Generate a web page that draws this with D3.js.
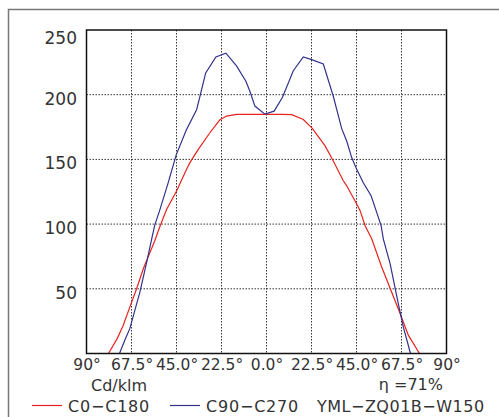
<!DOCTYPE html>
<html>
<head>
<meta charset="utf-8">
<script src="https://cdn.jsdelivr.net/npm/d3@7"></script>
<style>
	body { margin: 0; background: #fff; }
	svg { display: block; }
	text { font-family: "DejaVu Sans", sans-serif; fill: #333; }
</style>
</head>
<body>
<div id="chart"></div>
<script>
// Light distribution curve (Cd/klm) for two C-planes, drawn as a cartesian plot.

var width = 499,
	height = 417;

// Plot area inside the page
var plot = { left: 86.5, top: 30, right: 446.5, bottom: 353.5 };

// C0-C180 plane (red): gamma angle (deg, left side negative) and intensity
var redAngles = [-79, -74.6, -71.6, -68.3, -64.9, -61.6, -55.8, -53.3, -49.9, -44.9,
	-39.9, -38.3, -34.1, -28.3, -23.3, -19.9, -14.9, -7.5, 0, 7.5, 12.6,
	18.4, 22.8, 29.3, 33.4, 38.4, 40.1, 45.1, 46.8, 49.3, 52.6, 57.6, 66.8, 70.9, 76.5];
var redValues = [0, 11.7, 21.9, 36, 50.2, 65.5, 87.3, 98.1, 111.5, 125.8,
	142.5, 147.5, 157.8, 170.6, 180.6, 183.5, 184.8, 184.8, 184.8, 184.8, 184.6,
	180.8, 174.2, 160.4, 148.8, 133.5, 129.6, 115.5, 110.4, 98.8, 88.6, 66.8, 30.9, 14.2, 0];

// C90-C270 plane (blue)
var blueAngles = [-73.5, -70.8, -68.3, -65.8, -63.3, -59.9, -57.4, -55.8, -53.6, -49.1,
	-45.1, -40.1, -34.9, -30.4, -25.3, -20.3, -15, -10.3, -8.3, -5.8, -0.8,
	3.8, 8, 13.4, 18.4, 22.6, 28.4, 33.4, 37.6, 40.1, 42.6, 45.1, 48.4, 52.3,
	54.8, 57.3, 58.4, 61.8, 65.9, 68.4, 72];
var blueValues = [0, 10.4, 19.4, 33.5, 47.5, 70.6, 88.6, 99.6, 109.6, 132.2,
	153.7, 172.7, 188.6, 216.8, 229.2, 232.1, 222.3, 210.4, 202.7, 191.2, 185,
	187.3, 198, 218.5, 229.2, 227.1, 223.7, 198.8, 173.8, 164.2, 151.4, 142.3, 131.9, 121.9,
	110.4, 98.8, 88.6, 69.4, 38.6, 20.6, 0];

var xTicks = [-90, -67.5, -45, -22.5, 0, 22.5, 45, 67.5, 90];
var yTicks = [50, 100, 150, 200, 250];

var series = [
	{ name: 'C0\u2212C180', color: '#e8231e', angles: redAngles, values: redValues },
	{ name: 'C90\u2212C270', color: '#32328c', angles: blueAngles, values: blueValues }
];

var svg = d3.select('#chart').append('svg')
	.attr('width', width)
	.attr('height', height);

// outer frame (only the top and left edges are visible in the window)
svg.append('rect')
	.attr('x', 8.5).attr('y', 9.5)
	.attr('width', 700).attr('height', 700)
	.style('fill', 'none')
	.style('stroke', '#777')
	.style('stroke-width', 1.5);

var x = d3.scaleLinear().domain([-90, 90]).range([plot.left, plot.right]);
var y = d3.scaleLinear().domain([0, 250]).range([plot.bottom, plot.top]);

// dotted grid
svg.append('g').selectAll('line.vgrid')
	.data(xTicks.slice(1, -1))
	.enter().append('line')
		.attr('class', 'vgrid')
		.attr('x1', function(d) { return x(d); })
		.attr('x2', function(d) { return x(d); })
		.attr('y1', plot.top).attr('y2', plot.bottom)
		.style('stroke', '#333')
		.style('stroke-width', 1)
		.style('stroke-dasharray', '1.5,1.5');

svg.append('g').selectAll('line.hgrid')
	.data(yTicks.slice(0, -1))
	.enter().append('line')
		.attr('class', 'hgrid')
		.attr('x1', plot.left).attr('x2', plot.right)
		.attr('y1', function(d) { return y(d); })
		.attr('y2', function(d) { return y(d); })
		.style('stroke', '#333')
		.style('stroke-width', 1)
		.style('stroke-dasharray', '1.5,1.5');

// y axis labels
var yAxis = d3.axisLeft(y)
	.tickValues(yTicks)
	.tickSize(0)
	.tickPadding(9.5);
var gy = svg.append('g')
	.attr('transform', 'translate(' + plot.left + ',0)')
	.call(yAxis);
gy.select('.domain').remove();
gy.selectAll('text')
	.attr('dy', function(d) { return d === 250 ? '0.8em' : '0.55em'; })
	.style('font-size', '17px')
	.style('font-family', '"DejaVu Sans", sans-serif')
	.style('fill', '#333');

// x axis labels (absolute gamma angle)
var xAxis = d3.axisBottom(x)
	.tickValues(xTicks)
	.tickSize(0)
	.tickPadding(5)
	.tickFormat(function(d) {
		var a = Math.abs(d);
		return (a === 90 ? '90' : a.toFixed(1)) + '\u00b0';
	});
var gx = svg.append('g')
	.attr('transform', 'translate(0,' + plot.bottom + ')')
	.call(xAxis);
gx.select('.domain').remove();
gx.selectAll('text')
	.style('font-size', '15.5px')
	.style('font-family', '"DejaVu Sans", sans-serif')
	.style('fill', '#333');

// curves
var line = d3.line()
	.x(function(d) { return x(d[0]); })
	.y(function(d) { return y(d[1]); });

svg.append('g').selectAll('path.curve')
	.data(series)
	.enter().append('path')
		.attr('class', 'curve')
		.attr('d', function(s) { return line(d3.zip(s.angles, s.values)); })
		.style('fill', 'none')
		.style('stroke', function(s) { return s.color; })
		.style('stroke-width', 1.2);

// plot border
svg.append('rect')
	.attr('x', plot.left).attr('y', plot.top)
	.attr('width', plot.right - plot.left)
	.attr('height', plot.bottom - plot.top)
	.style('fill', 'none')
	.style('stroke', '#111')
	.style('stroke-width', 1.5);

// captions under the axis
svg.append('text')
	.attr('x', 91).attr('y', 391)
	.style('font-size', '16px')
	.text('Cd/klm');

svg.append('text')
	.attr('x', 443).attr('y', 390)
	.attr('text-anchor', 'end')
	.style('font-size', '16px')
	.text('\u03b7 =71%');

// legend
var legendX = [32, 170];
var leg = svg.append('g').selectAll('g.leg')
	.data(series)
	.enter().append('g')
		.attr('class', 'leg')
		.attr('transform', function(d, i) { return 'translate(' + legendX[i] + ',0)'; });
leg.append('line')
	.attr('x1', 0).attr('x2', 30)
	.attr('y1', 405.5).attr('y2', 405.5)
	.style('stroke', function(d) { return d.color; })
	.style('stroke-width', 1.2);
leg.append('text')
	.attr('x', 36).attr('y', 411.5)
	.style('font-size', '16px')
	.style('letter-spacing', '0.8px')
	.text(function(d) { return d.name; });

svg.append('text')
	.attr('x', 317).attr('y', 411.5)
	.style('font-size', '16px')
	.style('letter-spacing', '0.5px')
	.text('YML\u2212ZQ01B\u2212W150');
</script>
</body>
</html>
